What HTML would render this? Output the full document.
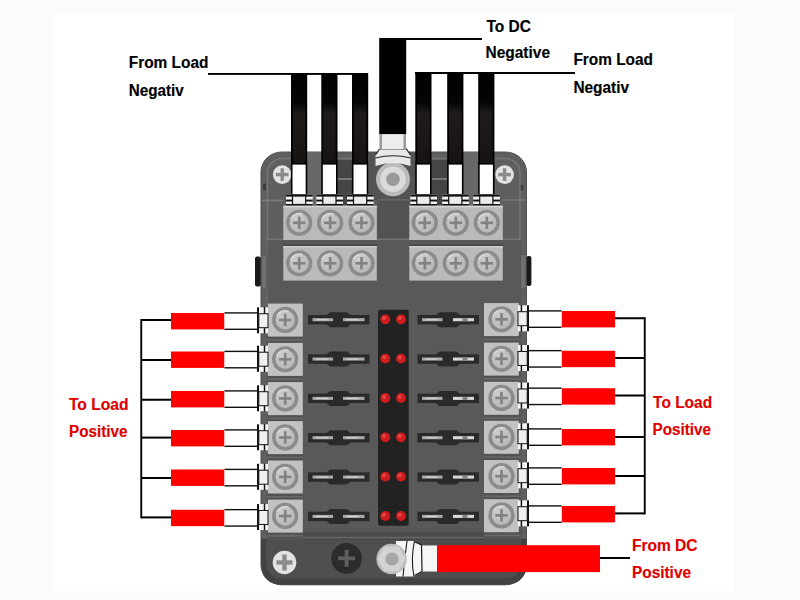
<!DOCTYPE html>
<html><head><meta charset="utf-8">
<style>
html,body{margin:0;padding:0;background:#fbfbfb;overflow:hidden;}
svg{display:block;}
text{font-family:"Liberation Sans",sans-serif;font-weight:bold;font-size:15.6px;}
</style></head><body>
<svg width="800" height="600" viewBox="0 0 800 600">
<defs>
  <linearGradient id="wireg" x1="0" y1="0" x2="0" y2="1">
    <stop offset="0" stop-color="#000"/>
    <stop offset="0.33" stop-color="#050505"/>
    <stop offset="0.45" stop-color="#201b1b"/>
    <stop offset="1" stop-color="#171313"/>
  </linearGradient>
  <radialGradient id="scr" cx="0.4" cy="0.35" r="0.75">
    <stop offset="0" stop-color="#cdcdcd"/>
    <stop offset="1" stop-color="#b2b2b2"/>
  </radialGradient>
  <linearGradient id="bodyg" x1="0" y1="0" x2="0" y2="1">
    <stop offset="0" stop-color="#6a6a6a"/>
    <stop offset="1" stop-color="#5a5a5a"/>
  </linearGradient>
</defs>
<rect x="0" y="0" width="800" height="600" fill="#fbfbfb"/>
<rect x="53" y="14" width="681" height="577" fill="#ffffff"/>

<rect x="261" y="152" width="265.5" height="432.79999999999995" rx="21" ry="20" fill="#5f5f5f" stroke="#505050" stroke-width="1"/>
<rect x="267.5" y="158.5" width="252.5" height="419.79999999999995" rx="15" ry="14" fill="none" stroke="#747474" stroke-width="1.6"/>
<rect x="307" y="152" width="14.5" height="53" fill="#686868"/>
<rect x="337.5" y="160" width="14.5" height="45" fill="#454545"/>
<rect x="337.5" y="178" width="14.5" height="2" fill="#777"/>
<rect x="431.5" y="160" width="15.5" height="45" fill="#454545"/>
<rect x="431.5" y="178" width="15.5" height="2" fill="#777"/>
<rect x="463" y="152" width="15.5" height="53" fill="#686868"/>
<rect x="369" y="152" width="46" height="48" fill="#535353"/>
<rect x="377.5" y="199" width="31.5" height="83" fill="#525252"/>
<rect x="377.5" y="199.2" width="31.5" height="1.4" fill="#686868"/>
<rect x="377.5" y="240.3" width="31.5" height="1.3" fill="#626262"/>
<rect x="266.5" y="240" width="255" height="297" fill="#595959"/>
<rect x="266.5" y="238.5" width="255" height="1.6" fill="#737373"/>
<rect x="266.5" y="240" width="1.2" height="297" fill="#6a6a6a"/>
<rect x="255" y="256.5" width="5.8" height="30" rx="2" fill="#1a1a1a"/>
<rect x="526.4" y="256" width="5" height="30" rx="2" fill="#1a1a1a"/>
<rect x="520.5" y="254.5" width="5.5" height="34" fill="#707070" stroke="#555" stroke-width="0.8"/>
<rect x="261.5" y="255" width="5" height="34" fill="#707070" stroke="#555" stroke-width="0.8"/>
<rect x="266.5" y="531.5" width="255" height="6" fill="#4c4c4c"/>
<rect x="262" y="536.8" width="264" height="1.6" fill="#676767"/>
<path d="M261 538.4 L526.5 538.4 L526.5 563 Q526.5 584.8 504 584.8 L283 584.8 Q261 584.8 261 563 Z" fill="#424242"/>
<path d="M266 539.5 L521.5 539.5 L521.5 561 Q521.5 578.5 504 578.5 L284 578.5 Q266 578.5 266 561 Z" fill="#4f4f4f"/>
<rect x="263" y="183.5" width="3" height="6.5" fill="#3e3e3e"/>
<rect x="520.7" y="185" width="2.8" height="5.5" fill="#3e3e3e"/>
<rect x="262" y="199.6" width="21" height="1.8" fill="#7a7a7a"/>
<rect x="503" y="199.3" width="22" height="1.4" fill="#7a7a7a"/>
<g transform="translate(282.2 174.6)"><circle r="9.3" fill="#e2e2e2"/>
    <rect x="-6.3" y="-1.7" width="12.6" height="3.4" fill="#8a8a8a"/>
    <rect x="-1.7" y="-6.3" width="3.4" height="12.6" fill="#8a8a8a"/></g>
<g transform="translate(504.6 174.6)"><circle r="9.3" fill="#e2e2e2"/>
    <rect x="-6.3" y="-1.7" width="12.6" height="3.4" fill="#8a8a8a"/>
    <rect x="-1.7" y="-6.3" width="3.4" height="12.6" fill="#8a8a8a"/></g>
<g transform="translate(284.5 562.5) scale(1.27)"><circle r="9.3" fill="#e2e2e2"/>
    <rect x="-6.3" y="-1.7" width="12.6" height="3.4" fill="#8a8a8a"/>
    <rect x="-1.7" y="-6.3" width="3.4" height="12.6" fill="#8a8a8a"/></g>
<rect x="291" y="73" width="16.2" height="91" fill="#000"/><rect x="292.8" y="73" width="12.6" height="91" fill="url(#wireg)"/><rect x="291.7" y="163.8" width="14.799999999999999" height="31" fill="#fff" stroke="#000" stroke-width="1.6"/><rect x="286" y="194.6" width="26.7" height="11.2" fill="#f2f2f2"/><rect x="286" y="194.6" width="26.7" height="2" fill="#111"/><rect x="286" y="199.6" width="26.7" height="1.9" fill="#111"/><rect x="286" y="204" width="26.7" height="1.8" fill="#111"/><rect x="292.5" y="196" width="13.2" height="8.5" fill="#ececec" stroke="#111" stroke-width="1.2"/>
<rect x="321.3" y="73" width="16.2" height="91" fill="#000"/><rect x="323.1" y="73" width="12.6" height="91" fill="url(#wireg)"/><rect x="322.0" y="163.8" width="14.799999999999999" height="31" fill="#fff" stroke="#000" stroke-width="1.6"/><rect x="316.3" y="194.6" width="26.7" height="11.2" fill="#f2f2f2"/><rect x="316.3" y="194.6" width="26.7" height="2" fill="#111"/><rect x="316.3" y="199.6" width="26.7" height="1.9" fill="#111"/><rect x="316.3" y="204" width="26.7" height="1.8" fill="#111"/><rect x="322.8" y="196" width="13.2" height="8.5" fill="#ececec" stroke="#111" stroke-width="1.2"/>
<rect x="352" y="73" width="16.2" height="91" fill="#000"/><rect x="353.8" y="73" width="12.6" height="91" fill="url(#wireg)"/><rect x="352.7" y="163.8" width="14.799999999999999" height="31" fill="#fff" stroke="#000" stroke-width="1.6"/><rect x="347" y="194.6" width="26.7" height="11.2" fill="#f2f2f2"/><rect x="347" y="194.6" width="26.7" height="2" fill="#111"/><rect x="347" y="199.6" width="26.7" height="1.9" fill="#111"/><rect x="347" y="204" width="26.7" height="1.8" fill="#111"/><rect x="353.5" y="196" width="13.2" height="8.5" fill="#ececec" stroke="#111" stroke-width="1.2"/>
<rect x="415.3" y="72" width="16.2" height="92" fill="#000"/><rect x="417.1" y="72" width="12.6" height="92" fill="url(#wireg)"/><rect x="416.0" y="163.8" width="14.799999999999999" height="31" fill="#fff" stroke="#000" stroke-width="1.6"/><rect x="410.3" y="194.6" width="26.7" height="11.2" fill="#f2f2f2"/><rect x="410.3" y="194.6" width="26.7" height="2" fill="#111"/><rect x="410.3" y="199.6" width="26.7" height="1.9" fill="#111"/><rect x="410.3" y="204" width="26.7" height="1.8" fill="#111"/><rect x="416.8" y="196" width="13.2" height="8.5" fill="#ececec" stroke="#111" stroke-width="1.2"/>
<rect x="447.2" y="72" width="16.2" height="92" fill="#000"/><rect x="449.0" y="72" width="12.6" height="92" fill="url(#wireg)"/><rect x="447.9" y="163.8" width="14.799999999999999" height="31" fill="#fff" stroke="#000" stroke-width="1.6"/><rect x="442.2" y="194.6" width="26.7" height="11.2" fill="#f2f2f2"/><rect x="442.2" y="194.6" width="26.7" height="2" fill="#111"/><rect x="442.2" y="199.6" width="26.7" height="1.9" fill="#111"/><rect x="442.2" y="204" width="26.7" height="1.8" fill="#111"/><rect x="448.7" y="196" width="13.2" height="8.5" fill="#ececec" stroke="#111" stroke-width="1.2"/>
<rect x="478.2" y="72" width="16.2" height="92" fill="#000"/><rect x="480.0" y="72" width="12.6" height="92" fill="url(#wireg)"/><rect x="478.9" y="163.8" width="14.799999999999999" height="31" fill="#fff" stroke="#000" stroke-width="1.6"/><rect x="473.2" y="194.6" width="26.7" height="11.2" fill="#f2f2f2"/><rect x="473.2" y="194.6" width="26.7" height="2" fill="#111"/><rect x="473.2" y="199.6" width="26.7" height="1.9" fill="#111"/><rect x="473.2" y="204" width="26.7" height="1.8" fill="#111"/><rect x="479.7" y="196" width="13.2" height="8.5" fill="#ececec" stroke="#111" stroke-width="1.2"/>
<rect x="379.2" y="38" width="27" height="96.5" fill="#000"/>
<circle cx="393" cy="179.2" r="17" fill="#bababa"/>
<circle cx="393" cy="179.2" r="12.8" fill="#dadada"/>
<circle cx="393" cy="179.2" r="6.8" fill="#9a9a9a"/>
<path d="M379.5 149 L406.5 149 L410.5 155 L410.5 166 Q393 160 375.5 166 L375.5 155 Z" fill="#e8e8e8"/>
<path d="M379.5 149 L406.5 149 L410.5 155 M379.5 149 L375.5 155" fill="none" stroke="#1a1a1a" stroke-width="1.1"/>
<path d="M375.5 158 Q393 153.5 410.5 158" fill="none" stroke="#222" stroke-width="1.1"/>
<rect x="379.5" y="134.2" width="26.5" height="15" fill="#ededed"/>
<rect x="379.5" y="134.2" width="2.5" height="15" fill="#9a9a9a"/>
<rect x="403.5" y="134.2" width="2.5" height="15" fill="#9a9a9a"/>
<rect x="283.3" y="205.8" width="93.5" height="34.19999999999999" fill="#bababa"/>
<rect x="283.3" y="205.8" width="93.5" height="1.6" fill="#d4d4d4"/>
<g transform="translate(299.2 222.8)"><circle r="11.4" fill="url(#scr)" stroke="#8b8b8b" stroke-width="3.5"/>
    <path d="M-8.3 -4 A9.2 9.2 0 0 1 3.5 -8.6" fill="none" stroke="#dadada" stroke-width="1.6"/>
    <rect x="-6.2" y="-1.35" width="12.4" height="2.7" fill="#838383"/>
    <rect x="-1.35" y="-6.2" width="2.7" height="12.4" fill="#838383"/></g>
<g transform="translate(330.2 222.8)"><circle r="11.4" fill="url(#scr)" stroke="#8b8b8b" stroke-width="3.5"/>
    <path d="M-8.3 -4 A9.2 9.2 0 0 1 3.5 -8.6" fill="none" stroke="#dadada" stroke-width="1.6"/>
    <rect x="-6.2" y="-1.35" width="12.4" height="2.7" fill="#838383"/>
    <rect x="-1.35" y="-6.2" width="2.7" height="12.4" fill="#838383"/></g>
<g transform="translate(361.5 222.8)"><circle r="11.4" fill="url(#scr)" stroke="#8b8b8b" stroke-width="3.5"/>
    <path d="M-8.3 -4 A9.2 9.2 0 0 1 3.5 -8.6" fill="none" stroke="#dadada" stroke-width="1.6"/>
    <rect x="-6.2" y="-1.35" width="12.4" height="2.7" fill="#838383"/>
    <rect x="-1.35" y="-6.2" width="2.7" height="12.4" fill="#838383"/></g>
<rect x="283.3" y="245.8" width="93.5" height="34.80000000000001" fill="#bababa"/>
<rect x="283.3" y="245.8" width="93.5" height="1.6" fill="#d4d4d4"/>
<g transform="translate(299.2 263.3)"><circle r="11.4" fill="url(#scr)" stroke="#8b8b8b" stroke-width="3.5"/>
    <path d="M-8.3 -4 A9.2 9.2 0 0 1 3.5 -8.6" fill="none" stroke="#dadada" stroke-width="1.6"/>
    <rect x="-6.2" y="-1.35" width="12.4" height="2.7" fill="#838383"/>
    <rect x="-1.35" y="-6.2" width="2.7" height="12.4" fill="#838383"/></g>
<g transform="translate(330.2 263.3)"><circle r="11.4" fill="url(#scr)" stroke="#8b8b8b" stroke-width="3.5"/>
    <path d="M-8.3 -4 A9.2 9.2 0 0 1 3.5 -8.6" fill="none" stroke="#dadada" stroke-width="1.6"/>
    <rect x="-6.2" y="-1.35" width="12.4" height="2.7" fill="#838383"/>
    <rect x="-1.35" y="-6.2" width="2.7" height="12.4" fill="#838383"/></g>
<g transform="translate(361.5 263.3)"><circle r="11.4" fill="url(#scr)" stroke="#8b8b8b" stroke-width="3.5"/>
    <path d="M-8.3 -4 A9.2 9.2 0 0 1 3.5 -8.6" fill="none" stroke="#dadada" stroke-width="1.6"/>
    <rect x="-6.2" y="-1.35" width="12.4" height="2.7" fill="#838383"/>
    <rect x="-1.35" y="-6.2" width="2.7" height="12.4" fill="#838383"/></g>
<rect x="409.3" y="205.8" width="93.5" height="34.19999999999999" fill="#bababa"/>
<rect x="409.3" y="205.8" width="93.5" height="1.6" fill="#d4d4d4"/>
<g transform="translate(424.8 222.8)"><circle r="11.4" fill="url(#scr)" stroke="#8b8b8b" stroke-width="3.5"/>
    <path d="M-8.3 -4 A9.2 9.2 0 0 1 3.5 -8.6" fill="none" stroke="#dadada" stroke-width="1.6"/>
    <rect x="-6.2" y="-1.35" width="12.4" height="2.7" fill="#838383"/>
    <rect x="-1.35" y="-6.2" width="2.7" height="12.4" fill="#838383"/></g>
<g transform="translate(455.8 222.8)"><circle r="11.4" fill="url(#scr)" stroke="#8b8b8b" stroke-width="3.5"/>
    <path d="M-8.3 -4 A9.2 9.2 0 0 1 3.5 -8.6" fill="none" stroke="#dadada" stroke-width="1.6"/>
    <rect x="-6.2" y="-1.35" width="12.4" height="2.7" fill="#838383"/>
    <rect x="-1.35" y="-6.2" width="2.7" height="12.4" fill="#838383"/></g>
<g transform="translate(486.8 222.8)"><circle r="11.4" fill="url(#scr)" stroke="#8b8b8b" stroke-width="3.5"/>
    <path d="M-8.3 -4 A9.2 9.2 0 0 1 3.5 -8.6" fill="none" stroke="#dadada" stroke-width="1.6"/>
    <rect x="-6.2" y="-1.35" width="12.4" height="2.7" fill="#838383"/>
    <rect x="-1.35" y="-6.2" width="2.7" height="12.4" fill="#838383"/></g>
<rect x="409.3" y="245.8" width="93.5" height="34.80000000000001" fill="#bababa"/>
<rect x="409.3" y="245.8" width="93.5" height="1.6" fill="#d4d4d4"/>
<g transform="translate(424.8 263.3)"><circle r="11.4" fill="url(#scr)" stroke="#8b8b8b" stroke-width="3.5"/>
    <path d="M-8.3 -4 A9.2 9.2 0 0 1 3.5 -8.6" fill="none" stroke="#dadada" stroke-width="1.6"/>
    <rect x="-6.2" y="-1.35" width="12.4" height="2.7" fill="#838383"/>
    <rect x="-1.35" y="-6.2" width="2.7" height="12.4" fill="#838383"/></g>
<g transform="translate(455.8 263.3)"><circle r="11.4" fill="url(#scr)" stroke="#8b8b8b" stroke-width="3.5"/>
    <path d="M-8.3 -4 A9.2 9.2 0 0 1 3.5 -8.6" fill="none" stroke="#dadada" stroke-width="1.6"/>
    <rect x="-6.2" y="-1.35" width="12.4" height="2.7" fill="#838383"/>
    <rect x="-1.35" y="-6.2" width="2.7" height="12.4" fill="#838383"/></g>
<g transform="translate(486.8 263.3)"><circle r="11.4" fill="url(#scr)" stroke="#8b8b8b" stroke-width="3.5"/>
    <path d="M-8.3 -4 A9.2 9.2 0 0 1 3.5 -8.6" fill="none" stroke="#dadada" stroke-width="1.6"/>
    <rect x="-6.2" y="-1.35" width="12.4" height="2.7" fill="#838383"/>
    <rect x="-1.35" y="-6.2" width="2.7" height="12.4" fill="#838383"/></g>
<rect x="283.3" y="240" width="93.5" height="5.8" fill="#585858"/>
<rect x="409.3" y="240" width="93.5" height="5.8" fill="#585858"/>
<rect x="283.3" y="244.6" width="93.5" height="1.2" fill="#404040"/>
<rect x="409.3" y="244.6" width="93.5" height="1.2" fill="#404040"/>
<rect x="266.5" y="335.6" width="36.3" height="8.5" fill="#535353"/>
<rect x="266.5" y="339.1" width="36.3" height="1.5" fill="#6a6a6a"/>
<rect x="268" y="303.6" width="34.8" height="33" fill="#c2c2c2"/>
<g transform="translate(285.2 320.0)"><circle r="11.4" fill="url(#scr)" stroke="#8b8b8b" stroke-width="3.5"/>
    <path d="M-8.3 -4 A9.2 9.2 0 0 1 3.5 -8.6" fill="none" stroke="#dadada" stroke-width="1.6"/>
    <rect x="-6.2" y="-1.35" width="12.4" height="2.7" fill="#838383"/>
    <rect x="-1.35" y="-6.2" width="2.7" height="12.4" fill="#838383"/></g>
<rect x="266.5" y="374.9" width="36.3" height="8.5" fill="#535353"/>
<rect x="266.5" y="378.4" width="36.3" height="1.5" fill="#6a6a6a"/>
<rect x="268" y="342.9" width="34.8" height="33" fill="#c2c2c2"/>
<g transform="translate(285.2 359.29999999999995)"><circle r="11.4" fill="url(#scr)" stroke="#8b8b8b" stroke-width="3.5"/>
    <path d="M-8.3 -4 A9.2 9.2 0 0 1 3.5 -8.6" fill="none" stroke="#dadada" stroke-width="1.6"/>
    <rect x="-6.2" y="-1.35" width="12.4" height="2.7" fill="#838383"/>
    <rect x="-1.35" y="-6.2" width="2.7" height="12.4" fill="#838383"/></g>
<rect x="266.5" y="414.1" width="36.3" height="8.5" fill="#535353"/>
<rect x="266.5" y="417.6" width="36.3" height="1.5" fill="#6a6a6a"/>
<rect x="268" y="382.1" width="34.8" height="33" fill="#c2c2c2"/>
<g transform="translate(285.2 398.5)"><circle r="11.4" fill="url(#scr)" stroke="#8b8b8b" stroke-width="3.5"/>
    <path d="M-8.3 -4 A9.2 9.2 0 0 1 3.5 -8.6" fill="none" stroke="#dadada" stroke-width="1.6"/>
    <rect x="-6.2" y="-1.35" width="12.4" height="2.7" fill="#838383"/>
    <rect x="-1.35" y="-6.2" width="2.7" height="12.4" fill="#838383"/></g>
<rect x="266.5" y="453.1" width="36.3" height="8.5" fill="#535353"/>
<rect x="266.5" y="456.6" width="36.3" height="1.5" fill="#6a6a6a"/>
<rect x="268" y="421.1" width="34.8" height="33" fill="#c2c2c2"/>
<g transform="translate(285.2 437.5)"><circle r="11.4" fill="url(#scr)" stroke="#8b8b8b" stroke-width="3.5"/>
    <path d="M-8.3 -4 A9.2 9.2 0 0 1 3.5 -8.6" fill="none" stroke="#dadada" stroke-width="1.6"/>
    <rect x="-6.2" y="-1.35" width="12.4" height="2.7" fill="#838383"/>
    <rect x="-1.35" y="-6.2" width="2.7" height="12.4" fill="#838383"/></g>
<rect x="266.5" y="492.5" width="36.3" height="8.5" fill="#535353"/>
<rect x="266.5" y="496.0" width="36.3" height="1.5" fill="#6a6a6a"/>
<rect x="268" y="460.5" width="34.8" height="33" fill="#c2c2c2"/>
<g transform="translate(285.2 476.9)"><circle r="11.4" fill="url(#scr)" stroke="#8b8b8b" stroke-width="3.5"/>
    <path d="M-8.3 -4 A9.2 9.2 0 0 1 3.5 -8.6" fill="none" stroke="#dadada" stroke-width="1.6"/>
    <rect x="-6.2" y="-1.35" width="12.4" height="2.7" fill="#838383"/>
    <rect x="-1.35" y="-6.2" width="2.7" height="12.4" fill="#838383"/></g>
<rect x="266.5" y="531.6" width="36.3" height="8.5" fill="#535353"/>
<rect x="266.5" y="535.1" width="36.3" height="1.5" fill="#6a6a6a"/>
<rect x="268" y="499.6" width="34.8" height="33" fill="#c2c2c2"/>
<g transform="translate(285.2 516.0)"><circle r="11.4" fill="url(#scr)" stroke="#8b8b8b" stroke-width="3.5"/>
    <path d="M-8.3 -4 A9.2 9.2 0 0 1 3.5 -8.6" fill="none" stroke="#dadada" stroke-width="1.6"/>
    <rect x="-6.2" y="-1.35" width="12.4" height="2.7" fill="#838383"/>
    <rect x="-1.35" y="-6.2" width="2.7" height="12.4" fill="#838383"/></g>
<rect x="484" y="335.1" width="37" height="8.5" fill="#535353"/>
<rect x="484" y="338.6" width="37" height="1.5" fill="#6a6a6a"/>
<rect x="484" y="303.1" width="34.8" height="33" fill="#c2c2c2"/>
<g transform="translate(501.5 319.3)"><circle r="11.4" fill="url(#scr)" stroke="#8b8b8b" stroke-width="3.5"/>
    <path d="M-8.3 -4 A9.2 9.2 0 0 1 3.5 -8.6" fill="none" stroke="#dadada" stroke-width="1.6"/>
    <rect x="-6.2" y="-1.35" width="12.4" height="2.7" fill="#838383"/>
    <rect x="-1.35" y="-6.2" width="2.7" height="12.4" fill="#838383"/></g>
<rect x="484" y="374.6" width="37" height="8.5" fill="#535353"/>
<rect x="484" y="378.1" width="37" height="1.5" fill="#6a6a6a"/>
<rect x="484" y="342.6" width="34.8" height="33" fill="#c2c2c2"/>
<g transform="translate(501.5 358.8)"><circle r="11.4" fill="url(#scr)" stroke="#8b8b8b" stroke-width="3.5"/>
    <path d="M-8.3 -4 A9.2 9.2 0 0 1 3.5 -8.6" fill="none" stroke="#dadada" stroke-width="1.6"/>
    <rect x="-6.2" y="-1.35" width="12.4" height="2.7" fill="#838383"/>
    <rect x="-1.35" y="-6.2" width="2.7" height="12.4" fill="#838383"/></g>
<rect x="484" y="413.8" width="37" height="8.5" fill="#535353"/>
<rect x="484" y="417.3" width="37" height="1.5" fill="#6a6a6a"/>
<rect x="484" y="381.8" width="34.8" height="33" fill="#c2c2c2"/>
<g transform="translate(501.5 398.0)"><circle r="11.4" fill="url(#scr)" stroke="#8b8b8b" stroke-width="3.5"/>
    <path d="M-8.3 -4 A9.2 9.2 0 0 1 3.5 -8.6" fill="none" stroke="#dadada" stroke-width="1.6"/>
    <rect x="-6.2" y="-1.35" width="12.4" height="2.7" fill="#838383"/>
    <rect x="-1.35" y="-6.2" width="2.7" height="12.4" fill="#838383"/></g>
<rect x="484" y="452.8" width="37" height="8.5" fill="#535353"/>
<rect x="484" y="456.3" width="37" height="1.5" fill="#6a6a6a"/>
<rect x="484" y="420.8" width="34.8" height="33" fill="#c2c2c2"/>
<g transform="translate(501.5 437.0)"><circle r="11.4" fill="url(#scr)" stroke="#8b8b8b" stroke-width="3.5"/>
    <path d="M-8.3 -4 A9.2 9.2 0 0 1 3.5 -8.6" fill="none" stroke="#dadada" stroke-width="1.6"/>
    <rect x="-6.2" y="-1.35" width="12.4" height="2.7" fill="#838383"/>
    <rect x="-1.35" y="-6.2" width="2.7" height="12.4" fill="#838383"/></g>
<rect x="484" y="492.0" width="37" height="8.5" fill="#535353"/>
<rect x="484" y="495.5" width="37" height="1.5" fill="#6a6a6a"/>
<rect x="484" y="460.0" width="34.8" height="33" fill="#c2c2c2"/>
<g transform="translate(501.5 476.2)"><circle r="11.4" fill="url(#scr)" stroke="#8b8b8b" stroke-width="3.5"/>
    <path d="M-8.3 -4 A9.2 9.2 0 0 1 3.5 -8.6" fill="none" stroke="#dadada" stroke-width="1.6"/>
    <rect x="-6.2" y="-1.35" width="12.4" height="2.7" fill="#838383"/>
    <rect x="-1.35" y="-6.2" width="2.7" height="12.4" fill="#838383"/></g>
<rect x="484" y="531.2" width="37" height="8.5" fill="#535353"/>
<rect x="484" y="534.7" width="37" height="1.5" fill="#6a6a6a"/>
<rect x="484" y="499.2" width="34.8" height="33" fill="#c2c2c2"/>
<g transform="translate(501.5 515.4)"><circle r="11.4" fill="url(#scr)" stroke="#8b8b8b" stroke-width="3.5"/>
    <path d="M-8.3 -4 A9.2 9.2 0 0 1 3.5 -8.6" fill="none" stroke="#dadada" stroke-width="1.6"/>
    <rect x="-6.2" y="-1.35" width="12.4" height="2.7" fill="#838383"/>
    <rect x="-1.35" y="-6.2" width="2.7" height="12.4" fill="#838383"/></g>
<rect x="308" y="315.0" width="61.5" height="9.4" fill="#2a2a2a"/><polygon points="327.0,314.7 330.0,312.2 347.0,312.2 350.0,314.7 350.0,324.7 347.0,327.2 330.0,327.2 327.0,324.7" fill="#2a2a2a"/><rect x="312.5" y="318.15" width="20.5" height="3.1" fill="#a9a9a9"/><rect x="316" y="319.2" width="12" height="1.1" fill="#d6d6d6"/><rect x="343" y="318.15" width="21.5" height="3.1" fill="#a9a9a9"/><rect x="346.5" y="319.2" width="12" height="1.1" fill="#d6d6d6"/>
<rect x="417.5" y="315.0" width="61.5" height="9.4" fill="#2a2a2a"/><polygon points="436.5,314.7 439.5,312.2 456.5,312.2 459.5,314.7 459.5,324.7 456.5,327.2 439.5,327.2 436.5,324.7" fill="#2a2a2a"/><rect x="422.0" y="318.15" width="20.5" height="3.1" fill="#a9a9a9"/><rect x="425.5" y="319.2" width="12" height="1.1" fill="#d6d6d6"/><rect x="453.0" y="318.15" width="21" height="3.1" fill="#d8d8d8"/><rect x="462.5" y="318.15" width="5" height="3.1" fill="#808080"/>
<rect x="308" y="354.34" width="61.5" height="9.4" fill="#2a2a2a"/><polygon points="327.0,354.03999999999996 330.0,351.53999999999996 347.0,351.53999999999996 350.0,354.03999999999996 350.0,364.03999999999996 347.0,366.53999999999996 330.0,366.53999999999996 327.0,364.03999999999996" fill="#2a2a2a"/><rect x="312.5" y="357.48999999999995" width="20.5" height="3.1" fill="#a9a9a9"/><rect x="316" y="358.53999999999996" width="12" height="1.1" fill="#d6d6d6"/><rect x="343" y="357.48999999999995" width="21.5" height="3.1" fill="#a9a9a9"/><rect x="346.5" y="358.53999999999996" width="12" height="1.1" fill="#d6d6d6"/>
<rect x="417.5" y="354.34" width="61.5" height="9.4" fill="#2a2a2a"/><polygon points="436.5,354.03999999999996 439.5,351.53999999999996 456.5,351.53999999999996 459.5,354.03999999999996 459.5,364.03999999999996 456.5,366.53999999999996 439.5,366.53999999999996 436.5,364.03999999999996" fill="#2a2a2a"/><rect x="422.0" y="357.48999999999995" width="20.5" height="3.1" fill="#a9a9a9"/><rect x="425.5" y="358.53999999999996" width="12" height="1.1" fill="#d6d6d6"/><rect x="453.0" y="357.48999999999995" width="21" height="3.1" fill="#d8d8d8"/><rect x="462.5" y="357.48999999999995" width="5" height="3.1" fill="#808080"/>
<rect x="308" y="393.68" width="61.5" height="9.4" fill="#2a2a2a"/><polygon points="327.0,393.38 330.0,390.88 347.0,390.88 350.0,393.38 350.0,403.38 347.0,405.88 330.0,405.88 327.0,403.38" fill="#2a2a2a"/><rect x="312.5" y="396.83" width="20.5" height="3.1" fill="#a9a9a9"/><rect x="316" y="397.88" width="12" height="1.1" fill="#d6d6d6"/><rect x="343" y="396.83" width="21.5" height="3.1" fill="#a9a9a9"/><rect x="346.5" y="397.88" width="12" height="1.1" fill="#d6d6d6"/>
<rect x="417.5" y="393.68" width="61.5" height="9.4" fill="#2a2a2a"/><polygon points="436.5,393.38 439.5,390.88 456.5,390.88 459.5,393.38 459.5,403.38 456.5,405.88 439.5,405.88 436.5,403.38" fill="#2a2a2a"/><rect x="422.0" y="396.83" width="20.5" height="3.1" fill="#a9a9a9"/><rect x="425.5" y="397.88" width="12" height="1.1" fill="#d6d6d6"/><rect x="453.0" y="396.83" width="21" height="3.1" fill="#d8d8d8"/><rect x="462.5" y="396.83" width="5" height="3.1" fill="#808080"/>
<rect x="308" y="433.02000000000004" width="61.5" height="9.4" fill="#2a2a2a"/><polygon points="327.0,432.72 330.0,430.22 347.0,430.22 350.0,432.72 350.0,442.72 347.0,445.22 330.0,445.22 327.0,442.72" fill="#2a2a2a"/><rect x="312.5" y="436.17" width="20.5" height="3.1" fill="#a9a9a9"/><rect x="316" y="437.22" width="12" height="1.1" fill="#d6d6d6"/><rect x="343" y="436.17" width="21.5" height="3.1" fill="#a9a9a9"/><rect x="346.5" y="437.22" width="12" height="1.1" fill="#d6d6d6"/>
<rect x="417.5" y="433.02000000000004" width="61.5" height="9.4" fill="#2a2a2a"/><polygon points="436.5,432.72 439.5,430.22 456.5,430.22 459.5,432.72 459.5,442.72 456.5,445.22 439.5,445.22 436.5,442.72" fill="#2a2a2a"/><rect x="422.0" y="436.17" width="20.5" height="3.1" fill="#a9a9a9"/><rect x="425.5" y="437.22" width="12" height="1.1" fill="#d6d6d6"/><rect x="453.0" y="436.17" width="21" height="3.1" fill="#d8d8d8"/><rect x="462.5" y="436.17" width="5" height="3.1" fill="#808080"/>
<rect x="308" y="472.36" width="61.5" height="9.4" fill="#2a2a2a"/><polygon points="327.0,472.06 330.0,469.56 347.0,469.56 350.0,472.06 350.0,482.06 347.0,484.56 330.0,484.56 327.0,482.06" fill="#2a2a2a"/><rect x="312.5" y="475.51" width="20.5" height="3.1" fill="#a9a9a9"/><rect x="316" y="476.56" width="12" height="1.1" fill="#d6d6d6"/><rect x="343" y="475.51" width="21.5" height="3.1" fill="#a9a9a9"/><rect x="346.5" y="476.56" width="12" height="1.1" fill="#d6d6d6"/>
<rect x="417.5" y="472.36" width="61.5" height="9.4" fill="#2a2a2a"/><polygon points="436.5,472.06 439.5,469.56 456.5,469.56 459.5,472.06 459.5,482.06 456.5,484.56 439.5,484.56 436.5,482.06" fill="#2a2a2a"/><rect x="422.0" y="475.51" width="20.5" height="3.1" fill="#a9a9a9"/><rect x="425.5" y="476.56" width="12" height="1.1" fill="#d6d6d6"/><rect x="453.0" y="475.51" width="21" height="3.1" fill="#d8d8d8"/><rect x="462.5" y="475.51" width="5" height="3.1" fill="#808080"/>
<rect x="308" y="511.7" width="61.5" height="9.4" fill="#2a2a2a"/><polygon points="327.0,511.4 330.0,508.9 347.0,508.9 350.0,511.4 350.0,521.4 347.0,523.9 330.0,523.9 327.0,521.4" fill="#2a2a2a"/><rect x="312.5" y="514.85" width="20.5" height="3.1" fill="#a9a9a9"/><rect x="316" y="515.9" width="12" height="1.1" fill="#d6d6d6"/><rect x="343" y="514.85" width="21.5" height="3.1" fill="#a9a9a9"/><rect x="346.5" y="515.9" width="12" height="1.1" fill="#d6d6d6"/>
<rect x="417.5" y="511.7" width="61.5" height="9.4" fill="#2a2a2a"/><polygon points="436.5,511.4 439.5,508.9 456.5,508.9 459.5,511.4 459.5,521.4 456.5,523.9 439.5,523.9 436.5,521.4" fill="#2a2a2a"/><rect x="422.0" y="514.85" width="20.5" height="3.1" fill="#a9a9a9"/><rect x="425.5" y="515.9" width="12" height="1.1" fill="#d6d6d6"/><rect x="453.0" y="514.85" width="21" height="3.1" fill="#d8d8d8"/><rect x="462.5" y="514.85" width="5" height="3.1" fill="#808080"/>
<rect x="378" y="309.7" width="30.7" height="216" rx="2" fill="#222"/>
<circle cx="385.3" cy="319.3" r="4.9" fill="#d01c1c"/>
<circle cx="384.1" cy="318.1" r="1.9" fill="#e44a4a"/>
<circle cx="401" cy="319.3" r="4.9" fill="#d01c1c"/>
<circle cx="399.8" cy="318.1" r="1.9" fill="#e44a4a"/>
<circle cx="385.3" cy="358.64" r="4.9" fill="#d01c1c"/>
<circle cx="384.1" cy="357.44" r="1.9" fill="#e44a4a"/>
<circle cx="401" cy="358.64" r="4.9" fill="#d01c1c"/>
<circle cx="399.8" cy="357.44" r="1.9" fill="#e44a4a"/>
<circle cx="385.3" cy="397.98" r="4.9" fill="#d01c1c"/>
<circle cx="384.1" cy="396.78000000000003" r="1.9" fill="#e44a4a"/>
<circle cx="401" cy="397.98" r="4.9" fill="#d01c1c"/>
<circle cx="399.8" cy="396.78000000000003" r="1.9" fill="#e44a4a"/>
<circle cx="385.3" cy="437.32000000000005" r="4.9" fill="#d01c1c"/>
<circle cx="384.1" cy="436.12000000000006" r="1.9" fill="#e44a4a"/>
<circle cx="401" cy="437.32000000000005" r="4.9" fill="#d01c1c"/>
<circle cx="399.8" cy="436.12000000000006" r="1.9" fill="#e44a4a"/>
<circle cx="385.3" cy="476.66" r="4.9" fill="#d01c1c"/>
<circle cx="384.1" cy="475.46000000000004" r="1.9" fill="#e44a4a"/>
<circle cx="401" cy="476.66" r="4.9" fill="#d01c1c"/>
<circle cx="399.8" cy="475.46000000000004" r="1.9" fill="#e44a4a"/>
<circle cx="385.3" cy="516.0" r="4.9" fill="#d01c1c"/>
<circle cx="384.1" cy="514.8" r="1.9" fill="#e44a4a"/>
<circle cx="401" cy="516.0" r="4.9" fill="#d01c1c"/>
<circle cx="399.8" cy="514.8" r="1.9" fill="#e44a4a"/>
<circle cx="346.6" cy="558.3" r="15.4" fill="#2c2c2c"/>
<rect x="338.1" y="556.4" width="17" height="3.8" fill="#5e5e5e"/>
<rect x="344.7" y="549.8" width="3.8" height="17" fill="#5e5e5e"/>
<path d="M396 541 L414 541 L421.5 545 L437 545 L437 572 L421.5 572 L414 576.5 L396 576.5 Z" fill="#f6f6f6"/>
<path d="M407 541 Q404.5 559 403 576.5 M414.5 541 Q410.5 559 414 576.5" fill="none" stroke="#1a1a1a" stroke-width="1.1"/>
<path d="M415 542 L421.5 545 L422 571.5 L414.5 575.5" fill="none" stroke="#1a1a1a" stroke-width="1.2"/>
<rect x="421.5" y="544.5" width="16" height="1" fill="#555"/>
<rect x="421.5" y="571.5" width="16" height="1" fill="#555"/>
<circle cx="391.6" cy="559" r="15.2" fill="#bdbdbd"/>
<polygon points="377.5,559 384.5,546.5 398.7,546.5 405.7,559 398.7,571.5 384.5,571.5" fill="#d3d3d3"/>
<circle cx="392" cy="559" r="6.6" fill="#a6a6a6"/>
<rect x="437" y="545.2" width="163" height="26.9" fill="#ff0000"/>
<rect x="171" y="313" width="53.5" height="16.4" fill="#ff0000"/><rect x="224.5" y="313" width="34" height="16.4" fill="#fff"/><rect x="224.5" y="312.2" width="34" height="1.4" fill="#111"/><rect x="224.5" y="328.6" width="34" height="1.4" fill="#111"/><rect x="257" y="307.3" width="2" height="26" fill="#111"/><rect x="263.7" y="307.3" width="1.6" height="6.5" fill="#111"/><rect x="263.7" y="328" width="1.6" height="5.3" fill="#111"/><rect x="259" y="307.3" width="4.7" height="26" fill="#f4f4f4"/><rect x="265.3" y="307.3" width="2.7" height="26" fill="#f4f4f4"/><rect x="258.8" y="313.7" width="9.2" height="14" fill="#f0f0f0" stroke="#111" stroke-width="1"/>
<rect x="141" y="319" width="30" height="2" fill="#000"/>
<rect x="561.6" y="311" width="53.5" height="16.4" fill="#ff0000"/><rect x="528" y="311" width="33.6" height="16.4" fill="#fff"/><rect x="528" y="310.2" width="33.6" height="1.4" fill="#111"/><rect x="528" y="326.6" width="33.6" height="1.4" fill="#111"/><rect x="527" y="305.3" width="2" height="26" fill="#111"/><rect x="520.6" y="305.3" width="1.6" height="6.5" fill="#111"/><rect x="520.6" y="326" width="1.6" height="5.3" fill="#111"/><rect x="522.2" y="305.3" width="4.8" height="26" fill="#f4f4f4"/><rect x="518" y="305.3" width="2.6" height="26" fill="#f4f4f4"/><rect x="518" y="311.7" width="9.2" height="14" fill="#f0f0f0" stroke="#111" stroke-width="1"/>
<rect x="615" y="317.25" width="30" height="2" fill="#000"/>
<rect x="171" y="351.5" width="53.5" height="16.4" fill="#ff0000"/><rect x="224.5" y="351.5" width="34" height="16.4" fill="#fff"/><rect x="224.5" y="350.7" width="34" height="1.4" fill="#111"/><rect x="224.5" y="367.1" width="34" height="1.4" fill="#111"/><rect x="257" y="345.8" width="2" height="26" fill="#111"/><rect x="263.7" y="345.8" width="1.6" height="6.5" fill="#111"/><rect x="263.7" y="366.5" width="1.6" height="5.3" fill="#111"/><rect x="259" y="345.8" width="4.7" height="26" fill="#f4f4f4"/><rect x="265.3" y="345.8" width="2.7" height="26" fill="#f4f4f4"/><rect x="258.8" y="352.2" width="9.2" height="14" fill="#f0f0f0" stroke="#111" stroke-width="1"/>
<rect x="141" y="359" width="30" height="2" fill="#000"/>
<rect x="561.6" y="350.75" width="53.5" height="16.4" fill="#ff0000"/><rect x="528" y="350.75" width="33.6" height="16.4" fill="#fff"/><rect x="528" y="349.95" width="33.6" height="1.4" fill="#111"/><rect x="528" y="366.35" width="33.6" height="1.4" fill="#111"/><rect x="527" y="345.05" width="2" height="26" fill="#111"/><rect x="520.6" y="345.05" width="1.6" height="6.5" fill="#111"/><rect x="520.6" y="365.75" width="1.6" height="5.3" fill="#111"/><rect x="522.2" y="345.05" width="4.8" height="26" fill="#f4f4f4"/><rect x="518" y="345.05" width="2.6" height="26" fill="#f4f4f4"/><rect x="518" y="351.45" width="9.2" height="14" fill="#f0f0f0" stroke="#111" stroke-width="1"/>
<rect x="615" y="357" width="30" height="2" fill="#000"/>
<rect x="171" y="391" width="53.5" height="16.4" fill="#ff0000"/><rect x="224.5" y="391" width="34" height="16.4" fill="#fff"/><rect x="224.5" y="390.2" width="34" height="1.4" fill="#111"/><rect x="224.5" y="406.6" width="34" height="1.4" fill="#111"/><rect x="257" y="385.3" width="2" height="26" fill="#111"/><rect x="263.7" y="385.3" width="1.6" height="6.5" fill="#111"/><rect x="263.7" y="406" width="1.6" height="5.3" fill="#111"/><rect x="259" y="385.3" width="4.7" height="26" fill="#f4f4f4"/><rect x="265.3" y="385.3" width="2.7" height="26" fill="#f4f4f4"/><rect x="258.8" y="391.7" width="9.2" height="14" fill="#f0f0f0" stroke="#111" stroke-width="1"/>
<rect x="141" y="398.75" width="30" height="2" fill="#000"/>
<rect x="561.6" y="388.25" width="53.5" height="16.4" fill="#ff0000"/><rect x="528" y="388.25" width="33.6" height="16.4" fill="#fff"/><rect x="528" y="387.45" width="33.6" height="1.4" fill="#111"/><rect x="528" y="403.85" width="33.6" height="1.4" fill="#111"/><rect x="527" y="382.55" width="2" height="26" fill="#111"/><rect x="520.6" y="382.55" width="1.6" height="6.5" fill="#111"/><rect x="520.6" y="403.25" width="1.6" height="5.3" fill="#111"/><rect x="522.2" y="382.55" width="4.8" height="26" fill="#f4f4f4"/><rect x="518" y="382.55" width="2.6" height="26" fill="#f4f4f4"/><rect x="518" y="388.95" width="9.2" height="14" fill="#f0f0f0" stroke="#111" stroke-width="1"/>
<rect x="615" y="394.5" width="30" height="2" fill="#000"/>
<rect x="171" y="430" width="53.5" height="16.4" fill="#ff0000"/><rect x="224.5" y="430" width="34" height="16.4" fill="#fff"/><rect x="224.5" y="429.2" width="34" height="1.4" fill="#111"/><rect x="224.5" y="445.6" width="34" height="1.4" fill="#111"/><rect x="257" y="424.3" width="2" height="26" fill="#111"/><rect x="263.7" y="424.3" width="1.6" height="6.5" fill="#111"/><rect x="263.7" y="445" width="1.6" height="5.3" fill="#111"/><rect x="259" y="424.3" width="4.7" height="26" fill="#f4f4f4"/><rect x="265.3" y="424.3" width="2.7" height="26" fill="#f4f4f4"/><rect x="258.8" y="430.7" width="9.2" height="14" fill="#f0f0f0" stroke="#111" stroke-width="1"/>
<rect x="141" y="436.6" width="30" height="2" fill="#000"/>
<rect x="561.6" y="429" width="53.5" height="16.4" fill="#ff0000"/><rect x="528" y="429" width="33.6" height="16.4" fill="#fff"/><rect x="528" y="428.2" width="33.6" height="1.4" fill="#111"/><rect x="528" y="444.6" width="33.6" height="1.4" fill="#111"/><rect x="527" y="423.3" width="2" height="26" fill="#111"/><rect x="520.6" y="423.3" width="1.6" height="6.5" fill="#111"/><rect x="520.6" y="444" width="1.6" height="5.3" fill="#111"/><rect x="522.2" y="423.3" width="4.8" height="26" fill="#f4f4f4"/><rect x="518" y="423.3" width="2.6" height="26" fill="#f4f4f4"/><rect x="518" y="429.7" width="9.2" height="14" fill="#f0f0f0" stroke="#111" stroke-width="1"/>
<rect x="615" y="436" width="30" height="2" fill="#000"/>
<rect x="171" y="469.5" width="53.5" height="16.4" fill="#ff0000"/><rect x="224.5" y="469.5" width="34" height="16.4" fill="#fff"/><rect x="224.5" y="468.7" width="34" height="1.4" fill="#111"/><rect x="224.5" y="485.1" width="34" height="1.4" fill="#111"/><rect x="257" y="463.8" width="2" height="26" fill="#111"/><rect x="263.7" y="463.8" width="1.6" height="6.5" fill="#111"/><rect x="263.7" y="484.5" width="1.6" height="5.3" fill="#111"/><rect x="259" y="463.8" width="4.7" height="26" fill="#f4f4f4"/><rect x="265.3" y="463.8" width="2.7" height="26" fill="#f4f4f4"/><rect x="258.8" y="470.2" width="9.2" height="14" fill="#f0f0f0" stroke="#111" stroke-width="1"/>
<rect x="141" y="477" width="30" height="2" fill="#000"/>
<rect x="561.6" y="468" width="53.5" height="16.4" fill="#ff0000"/><rect x="528" y="468" width="33.6" height="16.4" fill="#fff"/><rect x="528" y="467.2" width="33.6" height="1.4" fill="#111"/><rect x="528" y="483.6" width="33.6" height="1.4" fill="#111"/><rect x="527" y="462.3" width="2" height="26" fill="#111"/><rect x="520.6" y="462.3" width="1.6" height="6.5" fill="#111"/><rect x="520.6" y="483" width="1.6" height="5.3" fill="#111"/><rect x="522.2" y="462.3" width="4.8" height="26" fill="#f4f4f4"/><rect x="518" y="462.3" width="2.6" height="26" fill="#f4f4f4"/><rect x="518" y="468.7" width="9.2" height="14" fill="#f0f0f0" stroke="#111" stroke-width="1"/>
<rect x="615" y="475" width="30" height="2" fill="#000"/>
<rect x="171" y="509.75" width="53.5" height="16.4" fill="#ff0000"/><rect x="224.5" y="509.75" width="34" height="16.4" fill="#fff"/><rect x="224.5" y="508.95" width="34" height="1.4" fill="#111"/><rect x="224.5" y="525.35" width="34" height="1.4" fill="#111"/><rect x="257" y="504.05" width="2" height="26" fill="#111"/><rect x="263.7" y="504.05" width="1.6" height="6.5" fill="#111"/><rect x="263.7" y="524.75" width="1.6" height="5.3" fill="#111"/><rect x="259" y="504.05" width="4.7" height="26" fill="#f4f4f4"/><rect x="265.3" y="504.05" width="2.7" height="26" fill="#f4f4f4"/><rect x="258.8" y="510.45" width="9.2" height="14" fill="#f0f0f0" stroke="#111" stroke-width="1"/>
<rect x="141" y="516.4" width="30" height="2" fill="#000"/>
<rect x="561.6" y="506" width="53.5" height="16.4" fill="#ff0000"/><rect x="528" y="506" width="33.6" height="16.4" fill="#fff"/><rect x="528" y="505.2" width="33.6" height="1.4" fill="#111"/><rect x="528" y="521.6" width="33.6" height="1.4" fill="#111"/><rect x="527" y="500.3" width="2" height="26" fill="#111"/><rect x="520.6" y="500.3" width="1.6" height="6.5" fill="#111"/><rect x="520.6" y="521" width="1.6" height="5.3" fill="#111"/><rect x="522.2" y="500.3" width="4.8" height="26" fill="#f4f4f4"/><rect x="518" y="500.3" width="2.6" height="26" fill="#f4f4f4"/><rect x="518" y="506.7" width="9.2" height="14" fill="#f0f0f0" stroke="#111" stroke-width="1"/>
<rect x="615" y="512.4" width="30" height="2" fill="#000"/>
<rect x="208" y="73" width="160" height="1.9" fill="#000"/>
<rect x="405" y="38" width="77" height="2" fill="#000"/>
<rect x="415" y="72" width="160" height="2" fill="#000"/>
<rect x="600" y="557" width="30" height="2" fill="#000"/>
<rect x="140.3" y="319" width="1.9" height="199.4" fill="#000"/>
<rect x="643.8" y="317.25" width="1.9" height="197.15" fill="#000"/>
<text x="128.75" y="68.25" textLength="79.75" lengthAdjust="spacingAndGlyphs" fill="#000" stroke="#000" stroke-width="0.15">From Load</text>
<text x="128.75" y="95.5" textLength="55.0" lengthAdjust="spacingAndGlyphs" fill="#000" stroke="#000" stroke-width="0.15">Negativ</text>
<text x="486.5" y="31.5" textLength="44.5" lengthAdjust="spacingAndGlyphs" fill="#000" stroke="#000" stroke-width="0.15">To DC</text>
<text x="485.5" y="58.1" textLength="64.5" lengthAdjust="spacingAndGlyphs" fill="#000" stroke="#000" stroke-width="0.15">Negative</text>
<text x="573.4" y="65.4" textLength="79.5" lengthAdjust="spacingAndGlyphs" fill="#000" stroke="#000" stroke-width="0.15">From Load</text>
<text x="573.4" y="92.5" textLength="55.75" lengthAdjust="spacingAndGlyphs" fill="#000" stroke="#000" stroke-width="0.15">Negativ</text>
<text x="69.0" y="410.2" textLength="59.5" lengthAdjust="spacingAndGlyphs" fill="#e00000" stroke="#e00000" stroke-width="0.15">To Load</text>
<text x="69.0" y="436.6" textLength="58.5" lengthAdjust="spacingAndGlyphs" fill="#e00000" stroke="#e00000" stroke-width="0.15">Positive</text>
<text x="653.1" y="408.2" textLength="59.0" lengthAdjust="spacingAndGlyphs" fill="#e00000" stroke="#e00000" stroke-width="0.15">To Load</text>
<text x="652.5" y="434.5" textLength="58.5" lengthAdjust="spacingAndGlyphs" fill="#e00000" stroke="#e00000" stroke-width="0.15">Positive</text>
<text x="632.0" y="550.7" textLength="65.5" lengthAdjust="spacingAndGlyphs" fill="#e00000" stroke="#e00000" stroke-width="0.15">From DC</text>
<text x="632.0" y="577.5" textLength="59.0" lengthAdjust="spacingAndGlyphs" fill="#e00000" stroke="#e00000" stroke-width="0.15">Positive</text>
</svg></body></html>
